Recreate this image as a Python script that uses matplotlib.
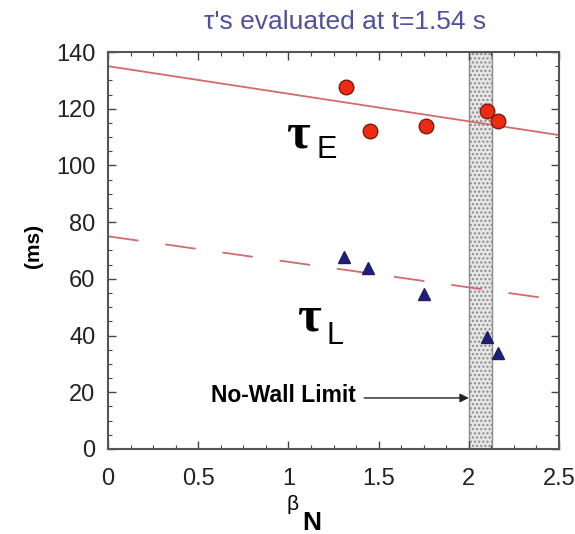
import matplotlib
matplotlib.use('Agg')
import matplotlib.pyplot as plt
from matplotlib.ticker import MultipleLocator

# measured points
beta_E = [1.32, 1.45, 1.76, 2.10, 2.16]
tau_E = [127.8, 112.0, 114.0, 119.3, 115.8]
beta_L = [1.31, 1.44, 1.75, 2.10, 2.16]
tau_L = [67.6, 64.0, 54.6, 39.6, 33.7]

# fit lines
fit_beta = [0.0, 2.5]
fit_E = [135.0, 110.7]
fit_L = [75.0, 52.5]

# no-wall limit band
wall_lo, wall_hi = 2.0, 2.13

plt.rcParams['font.family'] = ['Liberation Sans', 'DejaVu Sans']

fig = plt.figure(figsize=(5.75, 5.34), dpi=100)
ax = fig.add_axes([0.1878, 0.1592, 0.7844, 0.7434])

ax.axvspan(wall_lo, wall_hi, facecolor='#e6e6e6', edgecolor='#8a8a8a',
           lw=1.0, hatch='....', zorder=1)

line_col = '#d46a6a'
ax.plot(fit_beta, fit_E, color=line_col, lw=1.3, zorder=2)
ax.plot(fit_beta, fit_L, color=line_col, lw=1.3, linestyle=(0, (17, 15)), zorder=2)

ax.plot(beta_E, tau_E, 'o', ms=10.5, mfc='#ee2a10', mec='#7a1a10', mew=1.0, zorder=4)
ax.plot(beta_L, tau_L, '^', ms=8.5, mfc='#1c1c8c', mec='#222244', mew=1.0, zorder=4)

# labels inside the plot
serif = ['Liberation Serif', 'DejaVu Serif']
ax.text(1.06, 110.6, 'τ', fontsize=37, family=serif, fontweight='bold',
        ha='center', va='center', zorder=5)
ax.text(1.21, 105.5, 'E', fontsize=22, ha='center', va='center', zorder=5)
ax.text(1.12, 46.0, 'τ', fontsize=37, family=serif, fontweight='bold',
        ha='center', va='center', zorder=5)
ax.text(1.26, 40.0, 'L', fontsize=22, ha='center', va='center', zorder=5)

ax.text(0.975, 18.8, 'No-Wall Limit', fontsize=16.5, fontweight='bold',
        ha='center', va='center', zorder=5)
ax.annotate('', xy=(2.0, 18.0), xytext=(1.42, 18.0),
            arrowprops=dict(arrowstyle='-|>', color='#222222', lw=1.0,
                            mutation_scale=13, shrinkA=0, shrinkB=0))

ax.set_xlim(0, 2.5)
ax.set_ylim(0, 140)
ax.xaxis.set_major_locator(MultipleLocator(0.5))
ax.xaxis.set_minor_locator(MultipleLocator(0.125))
ax.yaxis.set_major_locator(MultipleLocator(20))
ax.yaxis.set_minor_locator(MultipleLocator(5))
ax.xaxis.set_major_formatter(plt.FuncFormatter(lambda v, p: ('%g' % v)))
ax.tick_params(which='both', direction='in', top=True, right=True,
               colors='#444444', labelcolor='#222222', labelsize=17)
ax.tick_params(which='major', length=6, width=1.0, pad=9)
ax.tick_params(which='minor', length=3, width=0.8)
ax.tick_params(axis='x', which='major', pad=14)
for s in ax.spines.values():
    s.set_color('#555555')
    s.set_linewidth(1.5)

fig.text(33 / 575, 1 - 246 / 534, '(ms)', rotation=90, fontsize=15,
         fontweight='bold', ha='center', va='center')
fig.text(293 / 575, 1 - 505 / 534, 'β', fontsize=15, ha='center', va='center')
fig.text(312 / 575, 1 - 523 / 534, 'N', fontsize=19, fontweight='bold',
         ha='center', va='center')
fig.text(345 / 575, 1 - 22 / 534, "τ's evaluated at t=1.54 s", fontsize=19,
         color='#50509e', ha='center', va='center')

fig.savefig('out.png', dpi=100)
